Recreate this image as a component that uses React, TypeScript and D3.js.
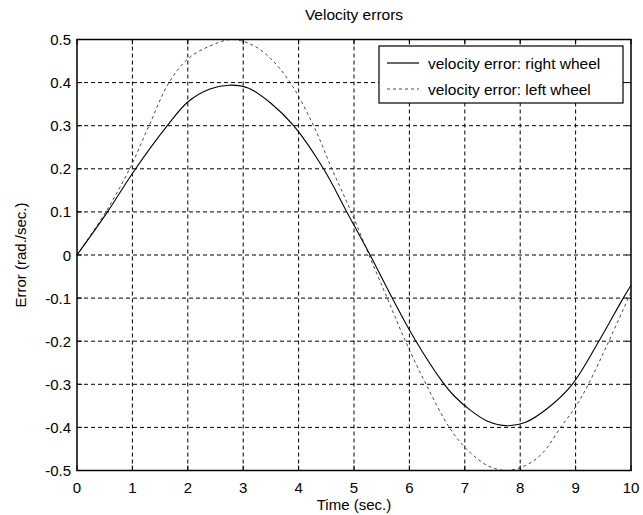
import React from "react";
import * as d3 from "d3";

const xTicks = [0, 1, 2, 3, 4, 5, 6, 7, 8, 9, 10];
const yTicks = [-0.5, -0.4, -0.3, -0.2, -0.1, 0, 0.1, 0.2, 0.3, 0.4, 0.5];
const yTickLabels = ["-0.5", "-0.4", "-0.3", "-0.2", "-0.1", "0", "0.1", "0.2", "0.3", "0.4", "0.5"];

const rightT = [0, 0.55, 1.03, 1.63, 2, 2.4, 2.75, 3.1, 3.5, 3.91, 4.45, 4.87, 5.29, 5.69, 6.1, 6.6, 6.8, 7.1, 7.4, 7.77, 8.1, 8.5, 8.94, 9.42, 9.86, 10];
const rightY = [0, 0.1, 0.195, 0.3, 0.355, 0.385, 0.394, 0.387, 0.352, 0.3, 0.2, 0.1, 0, -0.1, -0.196, -0.295, -0.326, -0.36, -0.385, -0.396, -0.388, -0.355, -0.3, -0.2, -0.1, -0.07];

const leftT = [0, 0.52, 0.95, 1.3, 1.66, 2, 2.4, 2.8, 3.2, 3.5, 3.85, 4.27, 4.6, 4.95, 5.27, 5.6, 5.93, 6.3, 6.72, 7, 7.4, 7.75, 8.1, 8.4, 8.73, 9, 9.23, 9.6, 10];
const leftY = [0, 0.1, 0.2, 0.3, 0.4, 0.455, 0.485, 0.5, 0.485, 0.455, 0.4, 0.3, 0.2, 0.1, 0, -0.1, -0.2, -0.3, -0.4, -0.446, -0.488, -0.5, -0.488, -0.46, -0.4, -0.352, -0.3, -0.2, -0.086];

const title = "Velocity errors";
const xLabel = "Time (sec.)";
const yLabel = "Error (rad./sec.)";
const legendLabels = ["velocity error: right wheel", "velocity error: left wheel"];

export default function App() {
  const W = 643, H = 515;
  const L = 77, R = 631, T = 39.5, B = 470.5;
  const x = d3.scaleLinear().domain([0, 10]).range([L, R]);
  const y = d3.scaleLinear().domain([-0.5, 0.5]).range([B, T]);
  const line = d3.line<[number, number]>().x(d => x(d[0])).y(d => y(d[1])).curve(d3.curveCatmullRom.alpha(0.5));
  const rightPath = line(rightT.map((t, i) => [t, rightY[i]]) as [number, number][]) || "";
  const leftPath = line(leftT.map((t, i) => [t, leftY[i]]) as [number, number][]) || "";
  const font = "'Liberation Sans', Arial, Helvetica, sans-serif";
  const lx = 379, ly = 46, lw = 244, lh = 57;
  return (
    <svg width={W} height={H} style={{ position: "absolute", left: 0, top: 0, background: "#fff" }} fontFamily={font}>
      <rect x={0} y={0} width={W} height={H} fill="#fff" />
      {/* grid */}
      {xTicks.slice(1, -1).map(t => (
        <line key={"gx" + t} x1={x(t)} x2={x(t)} y1={T} y2={B} stroke="#000" strokeWidth={1} strokeDasharray="4,3" />
      ))}
      {yTicks.slice(1, -1).map(t => (
        <line key={"gy" + t} x1={L} x2={R} y1={y(t)} y2={y(t)} stroke="#000" strokeWidth={1} strokeDasharray="4,3" />
      ))}
      {/* ticks */}
      {xTicks.map(t => (
        <g key={"tx" + t}>
          <line x1={x(t)} x2={x(t)} y1={B} y2={B - 5} stroke="#000" />
          <line x1={x(t)} x2={x(t)} y1={T} y2={T + 5} stroke="#000" />
          <text x={x(t)} y={493} textAnchor="middle" fontSize={15}>{t}</text>
        </g>
      ))}
      {yTicks.map((t, i) => (
        <g key={"ty" + t}>
          <line x1={L} x2={L + 5} y1={y(t)} y2={y(t)} stroke="#000" />
          <line x1={R} x2={R - 5} y1={y(t)} y2={y(t)} stroke="#000" />
          <text x={71} y={y(t) + 5.5} textAnchor="end" fontSize={15}>{yTickLabels[i]}</text>
        </g>
      ))}
      {/* curves */}
      <path d={leftPath} fill="none" stroke="#333" strokeWidth={0.9} strokeDasharray="3,3" />
      <path d={rightPath} fill="none" stroke="#000" strokeWidth={1.1} />
      {/* frame */}
      <rect x={L} y={T} width={R - L} height={B - T} fill="none" stroke="#000" strokeWidth={1.5} />
      {/* legend */}
      <rect x={lx} y={ly} width={lw} height={lh} fill="#fff" stroke="#000" strokeWidth={1.2} />
      <line x1={387} x2={419} y1={63} y2={63} stroke="#000" strokeWidth={1.2} />
      <line x1={387} x2={419} y1={89} y2={89} stroke="#333" strokeWidth={0.9} strokeDasharray="3,3" />
      <text x={428} y={68.5} fontSize={15.5}>{legendLabels[0]}</text>
      <text x={428} y={94.5} fontSize={15.5}>{legendLabels[1]}</text>
      {/* labels */}
      <text x={(L + R) / 2} y={20} textAnchor="middle" fontSize={15.5}>{title}</text>
      <text x={(L + R) / 2} y={510} textAnchor="middle" fontSize={15}>{xLabel}</text>
      <text transform={`translate(26,${(T + B) / 2}) rotate(-90)`} textAnchor="middle" fontSize={15}>{yLabel}</text>
    </svg>
  );
}
